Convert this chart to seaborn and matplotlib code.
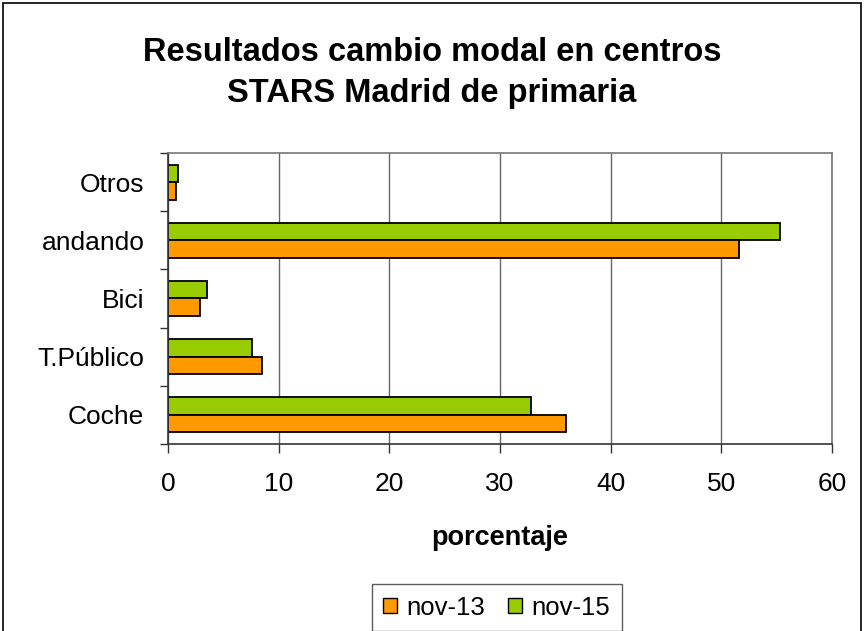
import pandas as pd
import numpy as np
import matplotlib
matplotlib.use("Agg")
import matplotlib.pyplot as plt
import seaborn as sns
from matplotlib.patches import Patch, Rectangle

# datos (de arriba abajo en el gráfico)
categorias = ["Otros", "andando", "Bici", "T.Público", "Coche"]
nov_13 = [0.75, 51.6, 2.9, 8.5, 36.0]
nov_15 = [0.9, 55.3, 3.5, 7.6, 32.8]
periodos = ["nov-13", "nov-15"]
colores = {"nov-13": "#FF9900", "nov-15": "#99CC00"}

df = pd.DataFrame({
    "modo": categorias * 2,
    "valor": nov_13 + nov_15,
    "periodo": ["nov-13"] * len(categorias) + ["nov-15"] * len(categorias),
})

sns.set_style("white")
plt.rcParams["font.family"] = ["Liberation Sans", "DejaVu Sans"]
plt.rcParams["text.color"] = "black"
plt.rcParams["axes.labelcolor"] = "black"
plt.rcParams["xtick.labelcolor"] = "black"
plt.rcParams["ytick.labelcolor"] = "black"

fig = plt.figure(figsize=(8.64, 6.31), dpi=100)
ax = fig.add_axes([0.1944, 0.2964, 0.7686, 0.4611])

sns.barplot(data=df, y="modo", x="valor", hue="periodo", order=categorias,
            hue_order=["nov-15", "nov-13"], palette=colores, orient="h",
            width=0.6, edgecolor="black", linewidth=1.3, saturation=1,
            legend=False, ax=ax)

ax.set_xlim(0, 60)
ax.set_ylim(len(categorias) - 0.5, -0.5)
ax.set_xticks(np.arange(0, 61, 10))
ax.xaxis.grid(True, color="#666666", linewidth=1)
ax.yaxis.grid(False)
ax.set_axisbelow(True)

# ticks en los límites de cada categoría, etiquetas en el centro
ax.set_yticks(np.arange(-0.5, len(categorias), 1))
ax.set_yticklabels([])
ax.set_yticks(np.arange(len(categorias)), minor=True)
ax.set_yticklabels(categorias, minor=True)
ax.tick_params(axis="y", which="minor", length=0, pad=17, labelsize=19)
ax.tick_params(axis="y", which="major", length=6, width=1, color="#333333", left=True)
ax.tick_params(axis="x", length=6.5, width=1, color="#333333", bottom=True,
               labelsize=19, pad=13.5)

for s in ["top", "right"]:
    ax.spines[s].set_color("#777777")
for s in ["left", "bottom"]:
    ax.spines[s].set_color("#333333")
for s in ax.spines.values():
    s.set_linewidth(1.2)

ax.set_ylabel("")
ax.set_xlabel("porcentaje", fontsize=19.5, fontweight="bold", labelpad=21)

fig.text(0.5, 1 - 61 / 631, "Resultados cambio modal en centros",
         ha="center", va="baseline", fontsize=23.5, fontweight="bold")
fig.text(0.5, 1 - 102 / 631, "STARS Madrid de primaria",
         ha="center", va="baseline", fontsize=23.5, fontweight="bold")

handles = [Patch(facecolor=colores[p], edgecolor="black", label=p) for p in periodos]
fig.legend(handles=handles, loc="upper center", bbox_to_anchor=(0.575, 1 - 584 / 631),
           ncol=2, frameon=True, fancybox=False, edgecolor="#333333",
           fontsize=18.5, handlelength=0.55, handleheight=0.55, handletextpad=0.35,
           columnspacing=0.9, borderpad=0.45, borderaxespad=0)

fig.patches.append(Rectangle((0.003, -0.05), 0.994, 1.046, transform=fig.transFigure,
                             fill=False, edgecolor="black", linewidth=1.2))

fig.savefig("out.png", dpi=100)
